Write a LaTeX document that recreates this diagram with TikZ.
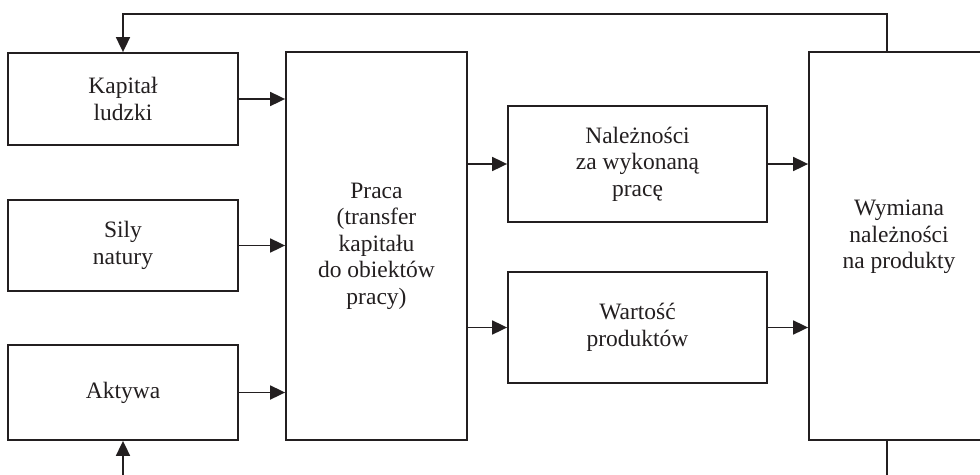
\documentclass[tikz,border=0pt]{standalone}
\usepackage{fontspec}
\setmainfont{Liberation Serif}
\usetikzlibrary{arrows.meta}
\definecolor{ink}{HTML}{231F20}
\begin{document}
\begin{tikzpicture}[x=1pt,y=-1pt,
  every node/.style={font=\fontsize{23.5}{26.5}\selectfont, text=ink},
  box/.style={draw=ink, line width=1.8pt, rectangle, inner sep=0pt, align=center},
  arr/.style={draw=ink, line width=1.8pt, -{Triangle[length=15pt,width=14pt]}},
  ln/.style={draw=ink, line width=1.8pt}]
\clip (0,0) rectangle (980,474);
\fill[white] (0,0) rectangle (980,474);
% left column
\node[box, minimum width=230pt, minimum height=92pt] (kap) at (123,99) {Kapitał\\ludzki};
\node[box, minimum width=230pt, minimum height=91pt] (sil) at (123,245.5) {Sily\\natury};
\node[box, minimum width=230pt, minimum height=95pt] (akt) at (123,392.5) {Aktywa};
% middle
\node[box, minimum width=181pt, minimum height=388pt] (pra) at (376.5,246) {Praca\\(transfer\\kapitału\\do obiektów\\pracy)};
\node[box, minimum width=259pt, minimum height=116pt] (nal) at (637.5,164) {Należności\\za wykonaną\\pracę};
\node[box, minimum width=259pt, minimum height=111pt] (war) at (637.5,327.5) {Wartość\\produktów};
% right
\node[box, minimum width=180pt, minimum height=388pt] (wym) at (899,246) {};
\node[align=center, inner sep=0pt] (wymtxt) at (899,237) {Wymiana\\należności\\na produkty};
% inputs to Praca
\draw[arr] (kap.east) -- (kap.east -| pra.west);
\draw[arr] (sil.east) -- (sil.east -| pra.west);
\draw[arr] (akt.east) -- (akt.east -| pra.west);
% Praca outputs
\draw[arr] (pra.east |- nal.west) -- (nal.west);
\draw[arr] (pra.east |- war.west) -- (war.west);
% to Wymiana
\draw[arr] (nal.east) -- (nal.east -| wym.west);
\draw[arr] (war.east) -- (war.east -| wym.west);
% feedback top
\coordinate (fbR) at (887,14);
\coordinate (fbL) at (123,14);
\draw[arr] (wym.north -| fbR) -- (fbR) -- (fbL) -- (kap.north);
% feedback bottom (cut off)
\coordinate (bR) at (887,490);
\coordinate (bL) at (123,490);
\draw[ln] (wym.south -| bR) -- (bR);
\draw[arr] (bL) -- (akt.south);
\end{tikzpicture}
\end{document}
